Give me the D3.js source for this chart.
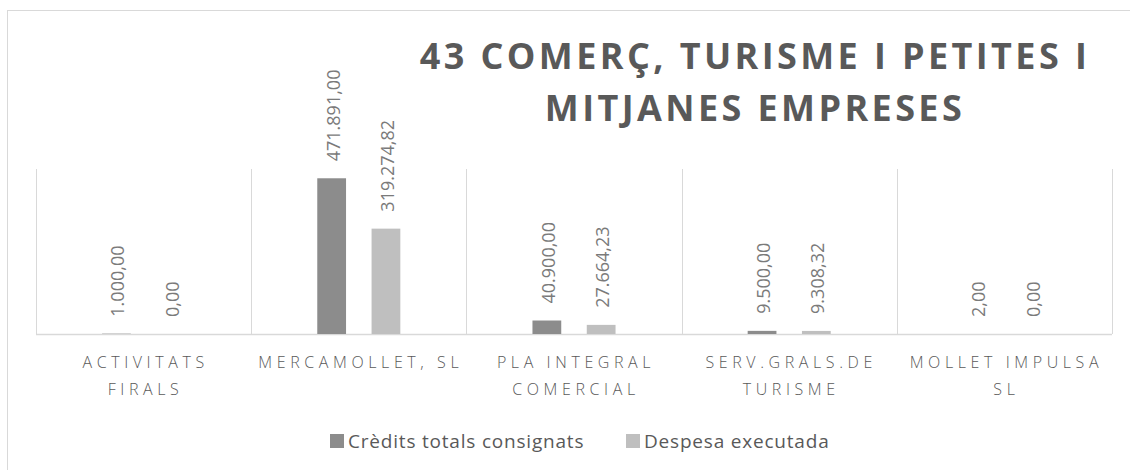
<!DOCTYPE html>
<html>
<head>
<meta charset="utf-8">
<script src="https://cdn.jsdelivr.net/npm/d3@7"></script>
<style>
  body { margin: 0; background: #fff; }
  svg { display: block; }
</style>
</head>
<body>
<svg id="chart" width="1130" height="470"></svg>
<script>
// categories and series
const categories = ['ACTIVITATS FIRALS', 'MERCAMOLLET, SL', 'PLA INTEGRAL COMERCIAL', 'SERV.GRALS.DE TURISME', 'MOLLET IMPULSA SL'];
const categoryLines = [['ACTIVITATS', 'FIRALS'], ['MERCAMOLLET, SL'], ['PLA INTEGRAL', 'COMERCIAL'], ['SERV.GRALS.DE', 'TURISME'], ['MOLLET IMPULSA', 'SL']];
const series = ['Crèdits totals consignats', 'Despesa executada'];
const credits = [1000, 471891, 40900, 9500, 2];
const despesa = [0, 319274.82, 27664.23, 9308.32, 0];
const titleLines = ['43 COMERÇ, TURISME I PETITES I', 'MITJANES EMPRESES'];
const yMax = 500000;

const colors = ['#8c8c8c', '#bfbfbf'];
const textColor = '#595959';
const labelColor = '#7a7a7a';
const gridColor = '#d9d9d9';

const fmt = d3.formatLocale({ decimal: ',', thousands: '.', grouping: [3], currency: ['', ''] }).format(',.2f');

const svg = d3.select('#chart');

// chart border
svg.append('rect')
    .attr('x', 7.5).attr('y', 10.5)
    .attr('width', 1140).attr('height', 480)
    .attr('fill', 'none')
    .attr('stroke', gridColor);

const plot = { left: 36, right: 1112, top: 169, bottom: 334 };

const x0 = d3.scaleBand()
    .domain(categories)
    .range([plot.left, plot.right]);

const bw = x0.bandwidth();
const x1 = d3.scaleBand()
    .domain(series)
    .range([bw * 0.307, bw * 0.693])
    .paddingInner(0.47);

const y = d3.scaleLinear()
    .domain([0, yMax])
    .range([plot.bottom, plot.top]);

// category dividers
const edges = categories.map(c => x0(c)).concat([plot.right]);
svg.append('g')
    .selectAll('line')
    .data(edges)
    .join('line')
    .attr('x1', d => Math.round(d) + 0.5)
    .attr('x2', d => Math.round(d) + 0.5)
    .attr('y1', plot.top)
    .attr('y2', plot.bottom)
    .attr('stroke', gridColor);

// baseline
svg.append('line')
    .attr('x1', plot.left).attr('x2', plot.right)
    .attr('y1', plot.bottom + 0.5).attr('y2', plot.bottom + 0.5)
    .attr('stroke', gridColor)
    .attr('stroke-width', 1.5);

const rows = categories.map((c, i) => ({ cat: c, values: [credits[i], despesa[i]] }));

const groups = svg.append('g')
    .selectAll('g')
    .data(rows)
    .join('g')
    .attr('transform', d => `translate(${x0(d.cat)},0)`);

groups.selectAll('rect')
    .data(d => d.values.map((v, j) => ({ s: series[j], v, j })))
    .join('rect')
    .attr('x', d => x1(d.s))
    .attr('y', d => y(d.v))
    .attr('width', x1.bandwidth())
    .attr('height', d => plot.bottom - y(d.v))
    .attr('fill', d => colors[d.j]);

// data labels, rotated
groups.selectAll('text')
    .data(d => d.values.map((v, j) => ({ s: series[j], v, j })))
    .join('text')
    .attr('transform', d => `translate(${x1(d.s) + x1.bandwidth() / 2 + 8},${y(d.v) - 17}) rotate(-90)`)
    .attr('text-anchor', 'start')
    .attr('font-family', 'Open Sans, sans-serif')
    .attr('font-size', 18)
    .attr('fill', labelColor)
    .text(d => fmt(d.v));

// category labels
const catText = svg.append('g')
    .selectAll('text')
    .data(categories)
    .join('text')
    .attr('text-anchor', 'middle')
    .attr('font-family', 'Open Sans, sans-serif')
    .attr('font-weight', 300)
    .attr('font-size', 16)
    .attr('letter-spacing', 4.6)
    .attr('fill', textColor);

catText.selectAll('tspan')
    .data((d, i) => categoryLines[i].map(l => ({ l, x: x0(d) + bw / 2 + 2 })))
    .join('tspan')
    .attr('x', d => d.x)
    .attr('y', (d, k) => 368 + k * 27)
    .text(d => d.l);

// title
svg.append('g')
    .selectAll('text')
    .data(titleLines)
    .join('text')
    .attr('x', 755)
    .attr('y', (d, i) => 69 + i * 52)
    .attr('text-anchor', 'middle')
    .attr('font-family', 'Open Sans, sans-serif')
    .attr('font-weight', 'bold')
    .attr('font-size', 36)
    .attr('letter-spacing', 3.4)
    .attr('fill', textColor)
    .text(d => d);

// legend
const legend = svg.append('g').attr('transform', 'translate(330,448)');
const legendX = [0, 296];
series.forEach((s, j) => {
    const g = legend.append('g').attr('transform', `translate(${legendX[j]},0)`);
    g.append('rect')
        .attr('x', 0).attr('y', -14)
        .attr('width', 14).attr('height', 14)
        .attr('fill', colors[j]);
    g.append('text')
        .attr('x', 18).attr('y', 0)
        .attr('font-family', 'Open Sans, sans-serif')
        .attr('font-size', 19)
        .attr('letter-spacing', 0.8)
        .attr('fill', textColor)
        .text(s);
});
</script>
</body>
</html>
